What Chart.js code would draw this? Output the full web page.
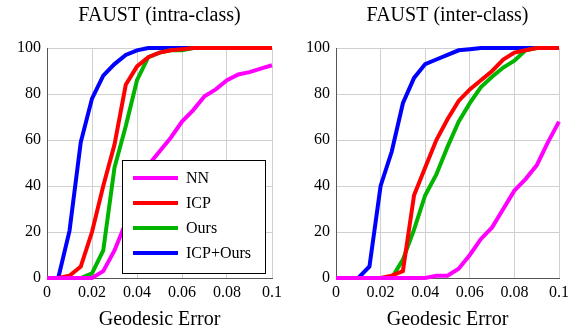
<!DOCTYPE html>
<html>
<head>
<meta charset="utf-8">
<script src="https://cdn.jsdelivr.net/npm/chart.js@4/dist/chart.umd.min.js"></script>
<style>
  body { margin: 0; background: #fff; }
  .panel { position: absolute; top: 0; width: 289px; height: 336px; }
</style>
</head>
<body>
<div class="panel" style="left:0"><canvas id="intra"></canvas></div>
<div class="panel" style="left:289px"><canvas id="inter"></canvas></div>
<script>
// error thresholds (geodesic error), every 0.005
const errores = [0, 0.005, 0.01, 0.015, 0.02, 0.025, 0.03, 0.035, 0.04, 0.045, 0.05,
  0.055, 0.06, 0.065, 0.07, 0.075, 0.08, 0.085, 0.09, 0.095, 0.1];
const xTicks = [0, 0.02, 0.04, 0.06, 0.08, 0.1];
const yTicks = [0, 20, 40, 60, 80, 100];

const metodos = ['NN', 'ICP', 'Ours', 'ICP+Ours'];
const colores = ['#ff00ff', '#ff0000', '#00b400', '#0000ff'];

// FAUST intra-class (% correspondences)
const intraNN      = [0, 0, 0, 0, 0, 3, 12, 24, 37, 49, 55, 61, 68, 73, 79, 82, 86, 88.5, 89.5, 91, 92.5];
const intraICP     = [0, 0, 1, 5, 20, 40, 58, 84, 92, 96, 98, 99, 99.5, 100, 100, 100, 100, 100, 100, 100, 100];
const intraOurs    = [0, 0, 0, 0, 2, 12, 48, 66, 86, 96, 98, 99, 99, 100, 100, 100, 100, 100, 100, 100, 100];
const intraICPOurs = [0, 0, 20.5, 59, 78, 88, 93, 97, 99, 100, 100, 100, 100, 100, 100, 100, 100, 100, 100, 100, 100];

// FAUST inter-class
const interNN      = [0, 0, 0, 0, 0, 0, 0, 0, 0, 1, 1, 4, 10, 17, 22, 30, 38, 43, 49, 59, 68];
const interICP     = [0, 0, 0, 0, 0, 1, 3, 36, 48, 60, 69, 77, 82, 86, 90, 95, 98, 99, 100, 100, 100];
const interOurs    = [0, 0, 0, 0, 0, 0, 8, 21, 36, 45, 57, 68, 76, 83, 87.5, 91.5, 94.5, 99, 100, 100, 100];
const interICPOurs = [0, 0, 0, 5, 40, 55, 76, 87, 93, 95, 97, 99, 99.5, 100, 100, 100, 100, 100, 100, 100, 100];

const fuente = "'Liberation Serif', 'Times New Roman', serif";
Chart.defaults.font.family = fuente;

// title centred over the plot area
const tituloArriba = {
  id: 'tituloArriba',
  afterDraw(chart, args, opts) {
    const ctx = chart.ctx;
    const a = chart.chartArea;
    ctx.save();
    ctx.font = '20px ' + fuente;
    ctx.fillStyle = '#000';
    ctx.textAlign = 'center';
    ctx.textBaseline = 'alphabetic';
    ctx.fillText(opts.text, (a.left + a.right) / 2, 21);
    ctx.restore();
  }
};

// legend drawn inside the plot area
const leyendaDentro = {
  id: 'leyendaDentro',
  afterDraw(chart, args, opts) {
    if (!opts.show) return;
    const ctx = chart.ctx;
    const x0 = 122, y0 = 160, w = 143, h = 113;
    ctx.save();
    ctx.fillStyle = '#fff';
    ctx.fillRect(x0, y0, w, h);
    ctx.strokeStyle = '#000';
    ctx.lineWidth = 1;
    ctx.strokeRect(x0 + 0.5, y0 + 0.5, w, h);
    ctx.font = '16px ' + fuente;
    ctx.textBaseline = 'middle';
    chart.data.datasets.forEach((ds, i) => {
      const y = y0 + 18 + i * 25;
      ctx.strokeStyle = ds.borderColor;
      ctx.lineWidth = 4;
      ctx.beginPath();
      ctx.moveTo(x0 + 11, y);
      ctx.lineTo(x0 + 56, y);
      ctx.stroke();
      ctx.fillStyle = '#000';
      ctx.fillText(ds.label, x0 + 64, y + 1);
    });
    ctx.restore();
  }
};

function crearGrafica(id, titulo, series, conLeyenda, padRight) {
  const ctx = document.getElementById(id).getContext('2d');
  return new Chart(ctx, {
    type: 'line',
    data: {
      datasets: series.map((s, i) => ({
        label: metodos[i],
        data: errores.map((e, k) => ({ x: e, y: s[k] })),
        borderColor: colores[i],
        backgroundColor: colores[i],
        borderWidth: 4,
        pointRadius: 0,
        fill: false,
        tension: 0,
        clip: 4
      }))
    },
    options: {
      responsive: true,
      maintainAspectRatio: false,
      animation: false,
      layout: { padding: { left: 0, right: padRight, top: 48, bottom: 0 } },
      plugins: {
        legend: { display: false },
        tooltip: { enabled: false },
        title: { display: false },
        tituloArriba: { text: titulo },
        leyendaDentro: { show: conLeyenda }
      },
      scales: {
        x: {
          type: 'linear',
          min: 0,
          max: 0.1,
          afterBuildTicks: axis => { axis.ticks = xTicks.map(v => ({ value: v })); },
          afterFit: axis => { axis.height = 58; },
          ticks: {
            color: '#000',
            font: { family: fuente, size: 16 },
            padding: 5,
            maxRotation: 0,
            callback: v => String(+v.toFixed(2))
          },
          grid: { color: '#d0d0d0', drawTicks: false },
          border: { color: '#555', width: 1 },
          title: {
            display: true,
            text: 'Geodesic Error',
            color: '#000',
            font: { family: fuente, size: 20 },
            padding: { top: 6, bottom: 4 }
          }
        },
        y: {
          min: 0,
          max: 100,
          afterBuildTicks: axis => { axis.ticks = yTicks.map(v => ({ value: v })); },
          afterFit: axis => { axis.width = 47; },
          ticks: {
            color: '#000',
            font: { family: fuente, size: 16 },
            padding: 6
          },
          grid: { color: '#d0d0d0', drawTicks: false },
          border: { color: '#555', width: 1 }
        }
      }
    },
    plugins: [tituloArriba, leyendaDentro]
  });
}

crearGrafica('intra', 'FAUST (intra-class)',
  [intraNN, intraICP, intraOurs, intraICPOurs], true, 17);
crearGrafica('inter', 'FAUST (inter-class)',
  [interNN, interICP, interOurs, interICPOurs], false, 19);
</script>
</body>
</html>
